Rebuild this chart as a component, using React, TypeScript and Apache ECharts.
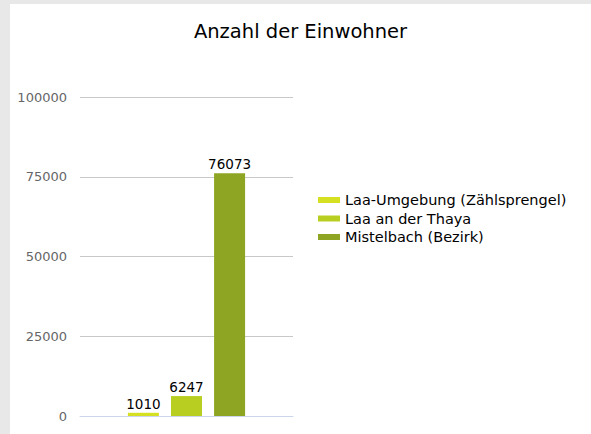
import React, { useEffect, useRef } from "react";
import * as echarts from "echarts";

const categories = ["Einwohner"];
const seriesNames = ["Laa-Umgebung (Zählsprengel)", "Laa an der Thaya", "Mistelbach (Bezirk)"];
const seriesValues = [1010, 6247, 76073];
const seriesColors = ["#d6e022", "#b8cf21", "#8ea523"];
const yTicks = [0, 25000, 50000, 75000, 100000];

export default function App() {
  const ref = useRef<HTMLDivElement>(null);
  useEffect(() => {
    const chart = echarts.init(ref.current!, null, { renderer: "svg" });
    chart.setOption({
      animation: false,
      backgroundColor: "#ffffff",
      textStyle: { fontFamily: "DejaVu Sans" },
      title: {
        text: "Anzahl der Einwohner",
        left: "center",
        top: 12,
        textStyle: { fontSize: 19.5, fontWeight: "normal", color: "#000", fontFamily: "DejaVu Sans" },
      },
      legend: {
        orient: "vertical",
        left: 303,
        top: 183,
        itemWidth: 22,
        itemHeight: 6,
        itemGap: 2.5,
        icon: "rect",
        textStyle: { fontSize: 14.5, color: "#000", fontFamily: "DejaVu Sans", lineHeight: 16 },
        data: seriesNames,
      },
      grid: { left: 70, right: 298, top: 93, bottom: 18, containLabel: false },
      xAxis: {
        type: "category",
        data: categories,
        axisLine: { lineStyle: { color: "#ccd6eb" } },
        axisTick: { show: false },
        axisLabel: { show: false },
      },
      yAxis: {
        type: "value",
        min: yTicks[0],
        max: yTicks[yTicks.length - 1],
        interval: yTicks[1] - yTicks[0],
        axisLine: { show: false },
        axisTick: { show: false },
        axisLabel: {
          fontSize: 13,
          color: "#666",
          margin: 13,
          fontFamily: "DejaVu Sans",
          formatter: (v: number) => String(v),
        },
        splitLine: { lineStyle: { color: "#c8c8c8" } },
      },
      series: seriesNames.map((name, i) => ({
        name,
        type: "bar",
        data: [seriesValues[i]],
        barWidth: 31,
        barGap: "39%",
        itemStyle: { color: seriesColors[i] },
        label: {
          show: true,
          position: "top",
          distance: 2,
          fontSize: 13.5,
          color: "#000",
          fontFamily: "DejaVu Sans",
        },
      })),
    });
    return () => chart.dispose();
  }, []);
  return (
    <div style={{ position: "fixed", inset: 0, background: "#e8e8e8" }}>
      <div
        ref={ref}
        style={{ position: "absolute", left: 10, top: 4, width: 581, height: 430, background: "#fff" }}
      />
    </div>
  );
}
